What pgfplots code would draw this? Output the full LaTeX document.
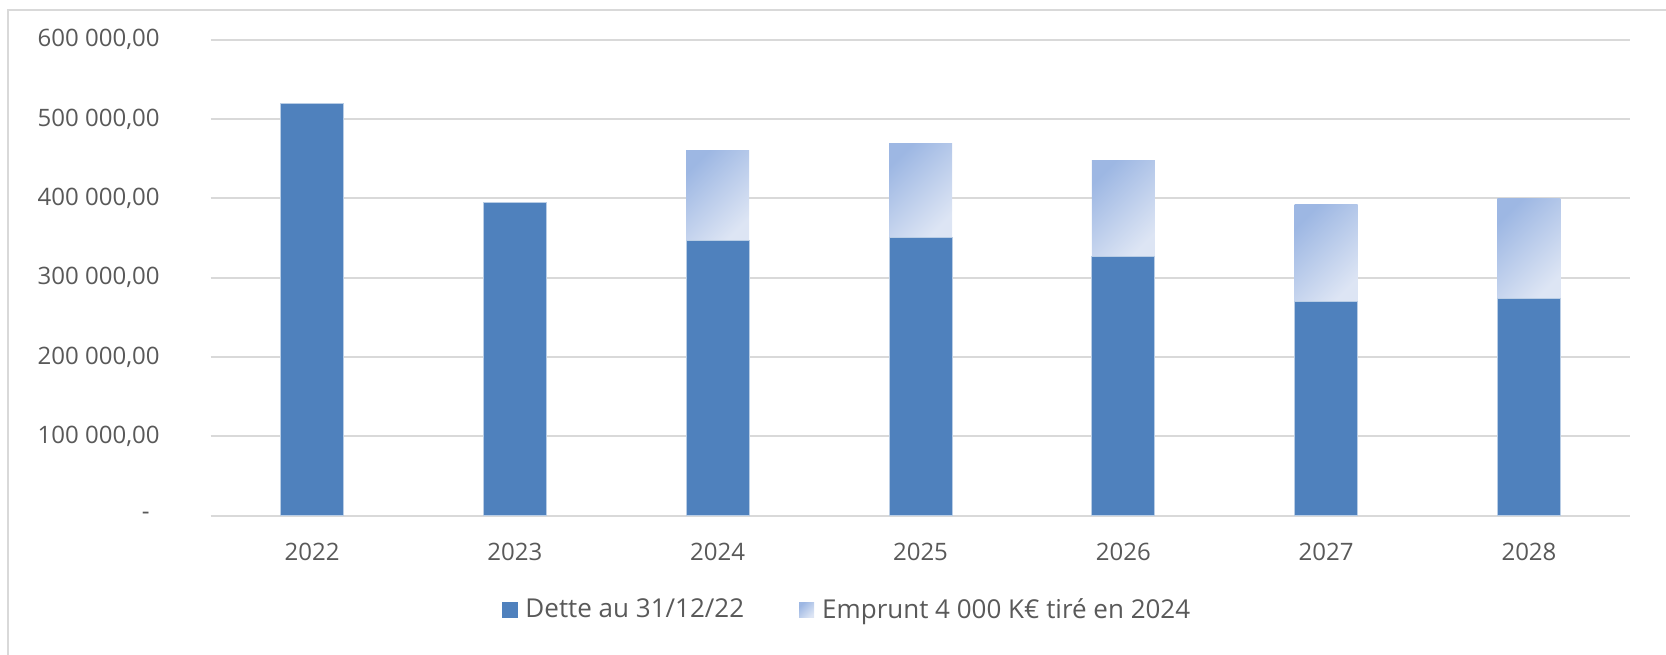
\documentclass[border=0pt]{standalone}
\usepackage{pgfplots}
\pgfplotsset{compat=1.18}
\usepackage{fontspec}
\setmainfont{Open Sans}

\definecolor{txt}{HTML}{595959}
\definecolor{gridc}{HTML}{D9D9D9}
\definecolor{dette}{HTML}{4F81BD}
\definecolor{empA}{HTML}{9DB7E3}
\definecolor{empB}{HTML}{DDE5F4}

\pgfplotsset{
  frame/.style={at={(0pt,0pt)}, anchor=south west, scale only axis,
    width=709.9pt, height=237.95pt,
    xmin=-0.5, xmax=6.5, ymin=0, ymax=600000,
    ybar stacked, bar width=31.5pt},
  dt/.style={fill=dette, draw=white!60!dette, line width=0.5pt, forget plot},
  emp/.style={draw=none, top color=empA, bottom color=empB, shading angle=45, forget plot},
}

\begin{document}
\begin{tikzpicture}
\useasboundingbox (-105.3pt,-69.15pt) rectangle (727.7pt,257.85pt);
% chart area frame (right and bottom edges fall outside the picture)
\draw[gridc, line width=1pt] (-101.3pt,-100pt) -- (-101.3pt,252.85pt) -- (760pt,252.85pt);
\begin{axis}[
  frame,
  xtick={0,1,2,3,4,5,6},
  xticklabels={2022,2023,2024,2025,2026,2027,2028},
  ytick={0,100000,200000,300000,400000,500000,600000},
  yticklabels={{-\kern5pt},{100 000,00},{200 000,00},{300 000,00},{400 000,00},{500 000,00},{600 000,00}},
  scaled y ticks=false,
  axis line style={draw=none},
  major tick length=0pt,
  ymajorgrids,
  major grid style={gridc, line width=1pt},
  tick label style={font=\fontsize{12}{14}\selectfont, text=txt, inner sep=0pt},
  yticklabel style={anchor=east, xshift=-25.3pt},
  xticklabel style={anchor=north, yshift=-13.6pt},
  legend columns=2,
  legend style={at={(0.4475,-0.198)}, anchor=center, draw=none, fill=none,
    font=\fontsize{13}{15}\selectfont, text=txt, inner sep=0pt,
    nodes={inner sep=0pt},
    /tikz/every odd column/.append style={column sep=4pt},
    /tikz/every even column/.append style={column sep=27.5pt}},
]
\addlegendimage{legend image code/.code={\fill[dette] (0pt,-3.75pt) rectangle (7.5pt,3.75pt);}}
\addlegendentry{Dette au 31/12/22}
\addlegendimage{legend image code/.code={\shade[draw=none, top color=empA, bottom color=empB, shading angle=45] (0pt,-3.75pt) rectangle (7.5pt,3.75pt);}}
\addlegendentry{Emprunt 4 000 K€ tiré en 2024}
% dette au 31/12/22 (years without loan)
\addplot[dt] coordinates {(0,519700) (1,394500)};
\end{axis}
% one stacked axis per year, so each loan segment gets its own gradient
\begin{axis}[frame, hide axis]
\addplot[dt] coordinates {(2,346700)};
\addplot[emp] coordinates {(2,114100)};
\end{axis}
\begin{axis}[frame, hide axis]
\addplot[dt] coordinates {(3,350900)};
\addplot[emp] coordinates {(3,118300)};
\end{axis}
\begin{axis}[frame, hide axis]
\addplot[dt] coordinates {(4,327000)};
\addplot[emp] coordinates {(4,120400)};
\end{axis}
\begin{axis}[frame, hide axis]
\addplot[dt] coordinates {(5,269600)};
\addplot[emp] coordinates {(5,122400)};
\end{axis}
\begin{axis}[frame, hide axis]
\addplot[dt] coordinates {(6,273800)};
\addplot[emp] coordinates {(6,125800)};
\end{axis}
\end{tikzpicture}
\end{document}
